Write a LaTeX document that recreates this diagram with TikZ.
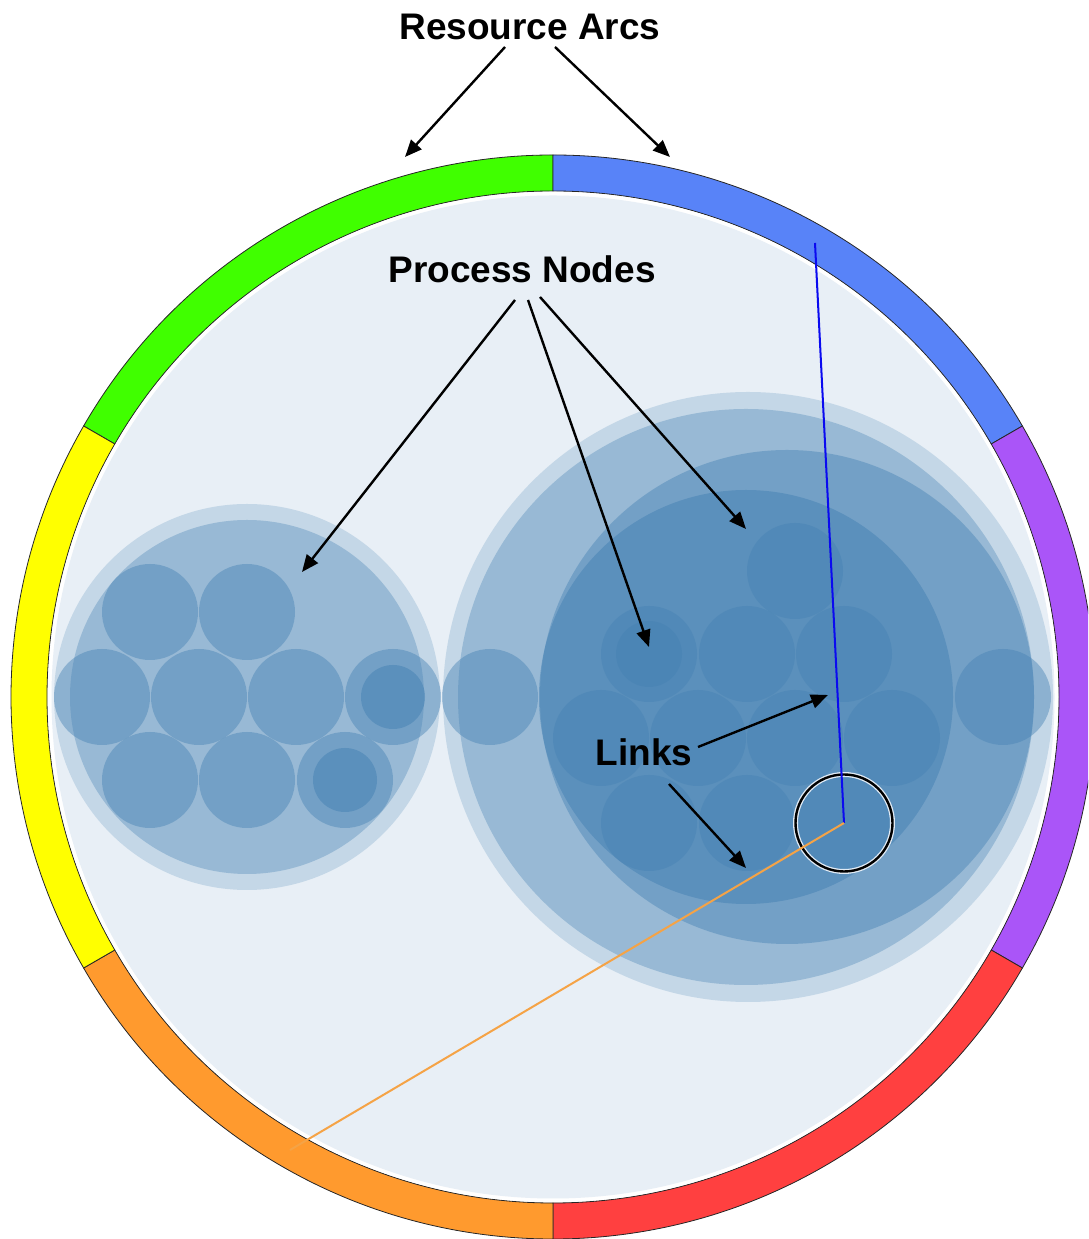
\documentclass[tikz,border=0pt]{standalone}
\usepackage{fontspec}
\setmainfont{Liberation Sans}
\usetikzlibrary{arrows.meta}
\definecolor{bgc}{RGB}{232,239,246}
\definecolor{pk}{RGB}{70,130,180}
\definecolor{rgreen}{RGB}{64,255,0}
\definecolor{rblue}{RGB}{88,131,248}
\definecolor{rpurple}{RGB}{170,85,248}
\definecolor{rred}{RGB}{255,64,64}
\definecolor{rorange}{RGB}{255,154,46}
\definecolor{ryellow}{RGB}{255,255,0}
\definecolor{lorange}{RGB}{245,163,70}
\definecolor{lblue}{RGB}{10,10,240}
\definecolor{halo}{RGB}{225,235,245}
\tikzset{
  seg/.style={draw=black!85, line width=0.8pt},
  layA/.style={fill=pk, fill opacity=0.22},
  layB/.style={fill=pk, fill opacity=0.35},
  layC/.style={fill=pk, fill opacity=0.44},
  layD/.style={fill=pk, fill opacity=0.53},
  leaf/.style={fill=pk, fill opacity=0.45},
  inner/.style={fill=pk, fill opacity=0.5},
  lbl/.style={font=\bfseries\fontsize{37}{40}\selectfont, inner sep=0pt, anchor=base},
  arr/.style={line width=2.4pt, -{Triangle[length=17pt,width=14pt]}},
  linkline/.style={line width=2pt},
}
\begin{document}
\begin{tikzpicture}[x=1pt,y=1pt]
\useasboundingbox (0,0) rectangle (1088,1239);
\clip (0,0) rectangle (1088,1239);
% resource ring
\begin{scope}[shift={(553,542)}]
  \foreach \a/\b/\c in {90/150/rgreen, 30/90/rblue, -30/30/rpurple, -90/-30/rred, -150/-90/rorange, 150/210/ryellow}
    \filldraw[seg, fill=\c] (\a:542) arc[start angle=\a, end angle=\b, radius=542] -- (\b:506) arc[start angle=\b, end angle=\a, radius=506] -- cycle;
  \fill[white] (0,0) circle[radius=505];
  \fill[bgc] (0,0) circle[radius=501.5];
\end{scope}
% left cluster
\fill[layA] (247,542) circle[radius=193];
\fill[layB] (247,542) circle[radius=177];
\foreach \x/\y in {150/627, 247/627, 102/542, 199/542, 296/542, 393/542, 150/459, 247/459, 345/459}
  \fill[layC] (\x,\y) circle[radius=48];
\fill[layD] (393,542) circle[radius=32];
\fill[layD] (345,459) circle[radius=32];
% right cluster
\fill[layA] (748,542) circle[radius=305];
\fill[layB] (746,542) circle[radius=288];
\fill[layC] (787,542) circle[radius=247];
\fill[layD] (746,542) circle[radius=207];
\fill[layC] (490,542) circle[radius=48];
\fill[layC] (1003,542) circle[radius=48];
\foreach \x/\y in {795/668, 649/585, 747/585, 844/585, 601/501, 698/501, 795/501, 892/501, 649/416, 747/416, 844/416}
  \fill[leaf] (\x,\y) circle[radius=48];
\fill[inner] (649,585) circle[radius=33];
% highlighted process
\coordinate (hl) at (844,416);
\draw[halo, line width=5pt] (hl) circle[radius=48.5];
\draw[black, line width=2.4pt] (hl) circle[radius=48.5];
% links
\coordinate (bend) at (815,996);
\coordinate (oend) at (290,89);
\draw[linkline, lblue] (hl) -- (bend);
\draw[linkline, lorange] (hl) -- (oend);
% labels
\node[lbl] (ra) at (530,1199) {Resource Arcs};
\node[lbl] (pn) at (522,956) {Process Nodes};
\node[lbl] (lk) at (644,473) {Links};
% arrows
\coordinate (ras1) at (505,1192); \coordinate (rat1) at (405,1082);
\coordinate (ras2) at (555,1192); \coordinate (rat2) at (670,1082);
\coordinate (pns1) at (515,939);  \coordinate (pnt1) at (302,667);
\coordinate (pns2) at (528,939);  \coordinate (pnt2) at (649,592);
\coordinate (pns3) at (540,942);  \coordinate (pnt3) at (746,710);
\coordinate (lks1) at (698,492);  \coordinate (lkt1) at (828,544);
\coordinate (lks2) at (669,455);  \coordinate (lkt2) at (746,371);
\draw[arr] (ras1) -- (rat1);
\draw[arr] (ras2) -- (rat2);
\draw[arr] (pns1) -- (pnt1);
\draw[arr] (pns2) -- (pnt2);
\draw[arr] (pns3) -- (pnt3);
\draw[arr] (lks1) -- (lkt1);
\draw[arr] (lks2) -- (lkt2);
\end{tikzpicture}
\end{document}
